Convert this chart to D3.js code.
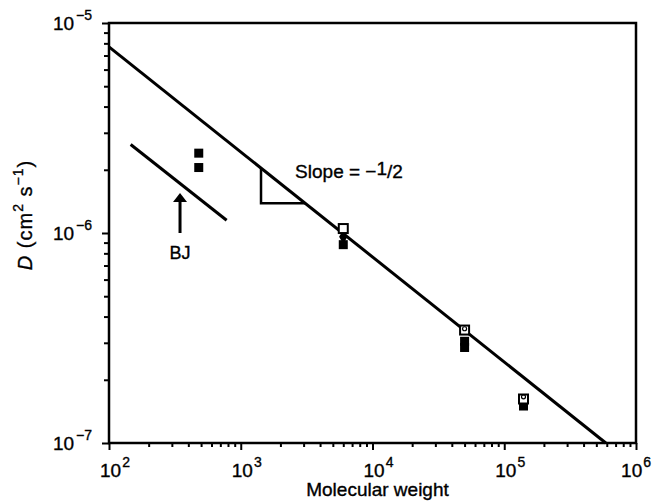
<!DOCTYPE html>
<html>
<head>
<meta charset="utf-8">
<script src="https://cdn.jsdelivr.net/npm/d3@7"></script>
<style>
  body { margin: 0; background: #fff; }
  text { font-family: "Liberation Sans", Arial, sans-serif; fill: #000; stroke: #000; stroke-width: 0.35px; }
</style>
</head>
<body>
<div id="chart"></div>
<script>
// ---- data ----
const xExponents = [2, 3, 4, 5, 6];          // 10^2 .. 10^6 molecular weight
const yExponents = [-7, -6, -5];             // 10^-7 .. 10^-5 cm2/s
const mainLine = [[100, 7.7e-6], [5.9e5, 1.0e-7]];   // slope -1/2
const bjLine = [[146, 2.64e-6], [781, 1.15e-6]];
const bjArrow = [[346, 1.0e-6], [346, 1.55e-6]];      // tail, head
const slopeTri = [1425, 3080];                        // M at corner and at far end
const filledSq = [[480, 2.4e-6], [480, 2.05e-6], [6000, 8.8e-7], [5e4, 3.05e-7], [5e4, 2.85e-7], [1.4e5, 1.5e-7]];
const openSq = [[6000, 1.05e-6], [5e4, 3.45e-7], [1.4e5, 1.62e-7]];
const diamonds = [[6000, 9.6e-7]];
const circles = [[5e4, 3.5e-7], [1.4e5, 1.66e-7]];

const W = 653, H = 501;
const margin = { top: 23, right: 17, bottom: 58, left: 109 };

const svg = d3.select("#chart").append("svg")
    .attr("width", W).attr("height", H);

const x = d3.scaleLog().domain([1e2, 1e6]).range([margin.left, W - margin.right]);
const y = d3.scaleLog().domain([1e-7, 1e-5]).range([H - margin.bottom, margin.top]);

// minor tick values
const xMinor = [], yMinor = [];
xExponents.slice(0, -1).forEach(e => { for (let k = 2; k <= 9; k++) xMinor.push(k * Math.pow(10, e)); });
yExponents.slice(0, -1).forEach(e => { for (let k = 2; k <= 9; k++) yMinor.push(k * Math.pow(10, e)); });

const x0 = x.range()[0], x1 = x.range()[1], y0 = y.range()[0], y1 = y.range()[1];

// ticks (outward)
svg.append("g").attr("transform", `translate(0,${y0})`)
    .call(d3.axisBottom(x).tickValues(xMinor).tickSize(4).tickFormat(""));
svg.append("g").attr("transform", `translate(0,${y0})`)
    .call(d3.axisBottom(x).tickValues(xExponents.map(e => Math.pow(10, e))).tickSize(7).tickFormat(""));
svg.append("g").attr("transform", `translate(${x0},0)`)
    .call(d3.axisLeft(y).tickValues(yMinor).tickSize(5).tickFormat(""));
svg.append("g").attr("transform", `translate(${x0},0)`)
    .call(d3.axisLeft(y).tickValues(yExponents.map(e => Math.pow(10, e))).tickSize(7).tickFormat(""));
svg.selectAll(".domain").remove();
svg.selectAll(".tick line").attr("stroke", "#000").attr("stroke-width", 2);

// frame
svg.append("rect")
    .attr("x", x0).attr("y", y1)
    .attr("width", x1 - x0).attr("height", y0 - y1)
    .attr("fill", "none").attr("stroke", "#000").attr("stroke-width", 2.5);

// tick labels
xExponents.forEach(e => {
    const t = svg.append("text")
        .attr("x", x(Math.pow(10, e)) - 9)
        .attr("y", 477)
        .style("font-size", "19px");
    t.append("tspan").text("10");
    t.append("tspan").attr("dx", 1).attr("dy", -10).style("font-size", "14px").text(e);
    // keep the last label inside the page
    const w = t.node().getComputedTextLength();
    const lx = +t.attr("x");
    if (lx + w > W - 3) t.attr("x", W - 3 - w);
});
yExponents.forEach(e => {
    const t = svg.append("text")
        .attr("x", 92)
        .attr("y", y(Math.pow(10, e)) + 7)
        .attr("text-anchor", "end")
        .style("font-size", "19px");
    t.append("tspan").text("10");
    t.append("tspan").attr("dx", 2).attr("dy", -10).style("font-size", "14px").text("\u2212" + Math.abs(e));
});

// axis titles
svg.append("text")
    .attr("x", (x0 + x1) / 2 + 5)
    .attr("y", 496)
    .attr("text-anchor", "middle")
    .style("font-size", "19px")
    .text("Molecular weight");

const yt = svg.append("text")
    .attr("transform", `translate(32,215) rotate(-90)`)
    .attr("text-anchor", "middle")
    .style("font-size", "20px")
    .style("letter-spacing", "1px");
yt.append("tspan").style("font-style", "italic").text("D");
yt.append("tspan").text(" (cm");
yt.append("tspan").attr("dy", -9).style("font-size", "14px").text("2");
yt.append("tspan").attr("dy", 9).text(" s");
yt.append("tspan").attr("dy", -9).style("font-size", "14px").text("\u22121");
yt.append("tspan").attr("dy", 9).text(")");

// lines
const line = d3.line().x(d => x(d[0])).y(d => y(d[1]));
svg.append("path").datum(mainLine).attr("d", line)
    .attr("fill", "none").attr("stroke", "#000").attr("stroke-width", 3);
svg.append("path").datum(bjLine).attr("d", line)
    .attr("fill", "none").attr("stroke", "#000").attr("stroke-width", 3);

// slope triangle built on the main line
const K = mainLine[0][1] * Math.sqrt(mainLine[0][0]);
const Dtop = K / Math.sqrt(slopeTri[0]);
const Dbot = K / Math.sqrt(slopeTri[1]);
svg.append("path").datum([[slopeTri[0], Dtop], [slopeTri[0], Dbot], [slopeTri[1], Dbot]])
    .attr("d", line)
    .attr("fill", "none").attr("stroke", "#000").attr("stroke-width", 2.5);
const st = svg.append("text")
    .attr("x", x(slopeTri[1]) - 10)
    .attr("y", y(Dtop) + 10)
    .style("font-size", "19px");
st.append("tspan").text("Slope = \u2212");
st.append("tspan").attr("dy", -3).text("1");
st.append("tspan").attr("dy", 3).text("/2");

// BJ arrow
const ax = x(bjArrow[0][0]), ayT = y(bjArrow[0][1]), ayH = y(bjArrow[1][1]);
svg.append("line")
    .attr("x1", ax).attr("x2", ax).attr("y1", ayT).attr("y2", ayH + 6)
    .attr("stroke", "#000").attr("stroke-width", 3);
svg.append("path")
    .attr("d", `M${ax},${ayH} L${ax - 7},${ayH + 9} L${ax + 7},${ayH + 9} Z`)
    .attr("fill", "#000");
svg.append("text")
    .attr("x", ax).attr("y", ayT + 26)
    .attr("text-anchor", "middle")
    .style("font-size", "18px")
    .text("BJ");

// markers
const s = 9;
svg.selectAll(".fsq").data(filledSq).enter().append("rect")
    .attr("x", d => x(d[0]) - s / 2).attr("y", d => y(d[1]) - s / 2)
    .attr("width", s).attr("height", s).attr("fill", "#000");
svg.selectAll(".dia").data(diamonds).enter().append("path")
    .attr("d", d => d3.symbol(d3.symbolDiamond, 60)())
    .attr("transform", d => `translate(${x(d[0])},${y(d[1])})`)
    .attr("fill", "#000");
svg.selectAll(".osq").data(openSq).enter().append("rect")
    .attr("x", d => x(d[0]) - s / 2).attr("y", d => y(d[1]) - s / 2)
    .attr("width", s).attr("height", s)
    .attr("fill", "#fff").attr("stroke", "#000").attr("stroke-width", 2);
svg.selectAll(".circ").data(circles).enter().append("circle")
    .attr("cx", d => x(d[0])).attr("cy", d => y(d[1]))
    .attr("r", 2).attr("fill", "none").attr("stroke", "#000").attr("stroke-width", 1.2);
</script>
</body>
</html>
